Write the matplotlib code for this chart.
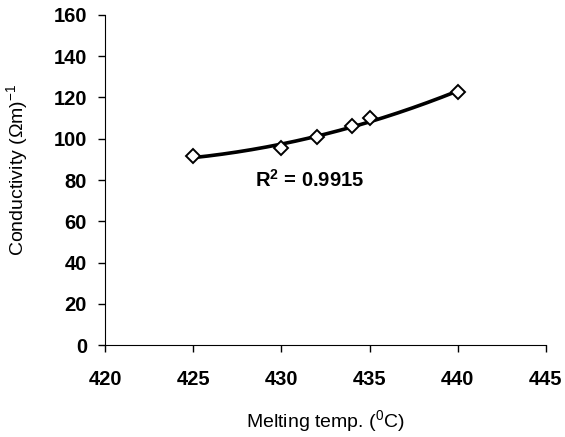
import numpy as np
import matplotlib
matplotlib.use("Agg")
import matplotlib.pyplot as plt

plt.rcParams["font.family"] = ["Liberation Sans", "DejaVu Sans"]
plt.rcParams["mathtext.default"] = "regular"

# donnees
temp = [425, 430, 432, 434, 435, 440]
conductivity = [91.5, 95.5, 101.0, 106.0, 110.0, 122.5]
x_ticks = [420, 425, 430, 435, 440, 445]
y_ticks = [0, 20, 40, 60, 80, 100, 120, 140, 160]

# tendance polynomiale d'ordre 2 (comme Excel)
coef = np.polyfit(temp, conductivity, 2)
xs = np.linspace(min(temp), max(temp), 200)
ys = np.polyval(coef, xs)

fig = plt.figure(figsize=(5.65, 4.37), dpi=100)
ax = fig.add_axes([0.186, 0.2105, 0.78, 0.7552])

ax.plot(xs, ys, color="black", lw=2.6, zorder=2)
ax.plot(temp, conductivity, ls="none", marker="D", ms=7, mfc="white",
        mec="black", mew=1.4, zorder=3)

ax.text(431.6, 80, r"R$^{2}$ = 0.9915", fontsize=14.5, fontweight="bold",
        ha="center", va="center")

ax.set_xlim(420, 445)
ax.set_ylim(0, 160)
ax.set_xticks(x_ticks)
ax.set_yticks(y_ticks)
ax.tick_params(direction="out", length=5, width=1, labelsize=14.5)
for lab in ax.get_xticklabels() + ax.get_yticklabels():
    lab.set_fontweight("bold")
ax.tick_params(axis="x", pad=13)
ax.tick_params(axis="y", pad=8)

ax.spines[["top", "right"]].set_visible(False)
ax.set_xlabel("Melting temp. ($^{0}$C)", fontsize=14, labelpad=14)
ax.set_ylabel(r"Conductivity ($\Omega$m)$^{-1}$", fontsize=14)
ax.yaxis.set_label_coords(-0.17, 0.53)

plt.savefig("out.png", dpi=100)
